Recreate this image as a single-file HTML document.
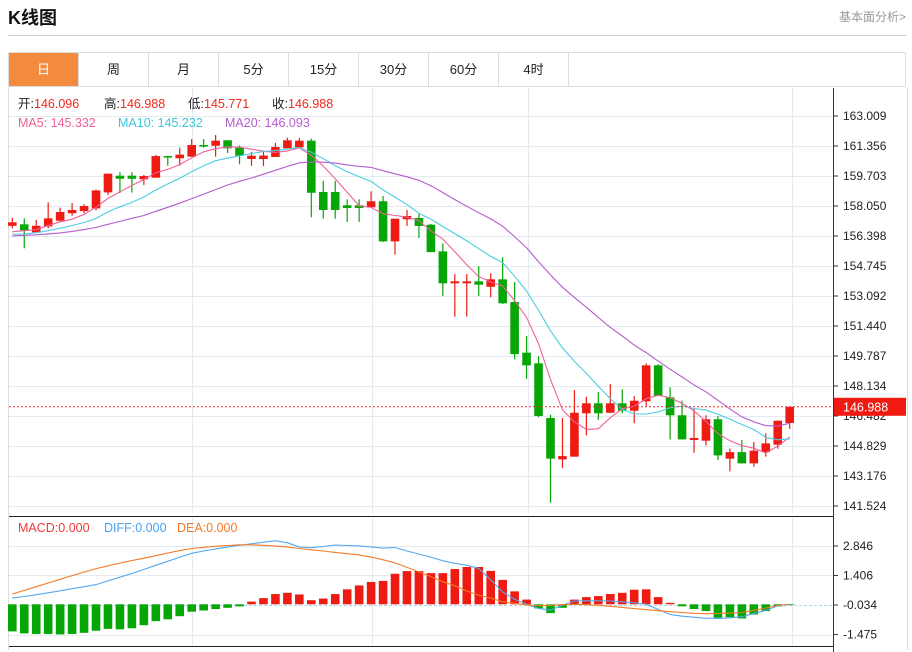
<!DOCTYPE html>
<html><head><meta charset="utf-8">
<style>
body{margin:0;width:912px;height:652px;background:#fff;overflow:hidden;font-family:"Liberation Sans","Noto Sans CJK SC",sans-serif;}
#title{position:absolute;left:8px;top:4px;font-size:18px;font-weight:bold;color:#111;}
#fa{position:absolute;right:6px;top:8px;font-size:12px;color:#999;}
#hr{position:absolute;left:8px;top:35px;width:898px;height:1px;background:#ccc;}
#tabs{position:absolute;left:8px;top:52px;width:898px;height:35px;border:1px solid #ddd;box-sizing:border-box;display:flex;}
.tab{width:70px;height:100%;border-right:1px solid #ddd;box-sizing:border-box;text-align:center;line-height:34px;font-size:13px;color:#222;}
.tab.on{background:#f38b3e;color:#fff;}
svg{position:absolute;left:0;top:0;}
</style></head><body>
<div id="title">K线图</div>
<div id="fa">基本面分析&gt;</div>
<div id="hr"></div>
<div id="tabs">
<div class="tab on">日</div>
<div class="tab">周</div>
<div class="tab">月</div>
<div class="tab">5分</div>
<div class="tab">15分</div>
<div class="tab">30分</div>
<div class="tab">60分</div>
<div class="tab">4时</div>
</div>
<svg id="chart" width="912" height="652"></svg>
<script>
const history=[156.0,156.5,156.3,156.6,156.2,156.1,156.5,156.4,156.3,156.2,156.6,156.2,156.3,156.4,156.3,156.4,156.7,156.2,156.7];
const opens=[156.96,157.04,156.60,156.93,157.24,157.65,157.77,157.92,158.80,159.72,159.72,159.52,159.61,160.80,160.68,160.77,161.41,161.37,161.67,161.26,160.64,160.64,160.75,161.23,161.28,161.65,158.82,158.82,158.09,158.09,157.98,158.31,156.10,157.32,157.39,157.02,155.55,153.79,153.79,153.90,153.60,154.01,152.76,149.97,149.38,146.37,144.09,144.24,146.63,147.18,146.66,147.18,146.77,147.29,149.27,147.51,146.52,145.16,145.12,146.30,144.13,144.49,143.87,144.49,144.90,146.096];
const highs=[157.40,157.37,157.29,158.25,157.96,158.21,158.14,158.95,159.83,159.91,159.91,159.76,160.86,160.80,161.26,161.74,161.74,161.96,161.67,161.39,161.04,161.08,161.52,161.81,161.80,161.76,159.44,159.44,158.42,158.42,158.86,158.60,157.35,157.83,157.61,157.06,155.99,154.30,154.30,154.74,154.34,155.22,153.86,150.89,149.78,146.55,146.37,147.91,147.54,147.80,148.24,147.95,147.58,149.38,149.34,148.06,147.32,146.88,146.52,146.48,144.68,145.16,145.05,145.53,146.22,146.988];
const lows=[156.82,155.72,156.60,156.82,157.18,157.51,157.65,157.81,158.66,158.77,158.79,159.21,159.61,160.27,160.27,160.77,161.26,160.77,160.97,160.35,160.27,160.25,160.75,161.23,161.28,157.43,157.35,157.35,157.17,157.17,157.98,156.07,155.37,156.95,156.29,155.51,153.09,151.95,151.95,153.09,153.02,152.65,149.60,148.53,146.41,141.70,143.61,144.24,145.41,146.26,146.66,146.63,146.08,147.03,147.58,145.19,145.19,144.46,144.86,144.05,143.43,143.87,143.68,144.24,144.68,145.771];
const closes=[157.15,156.71,156.96,157.37,157.72,157.83,158.05,158.91,159.83,159.55,159.55,159.70,160.80,160.73,160.88,161.41,161.37,161.65,161.23,160.82,160.82,160.83,161.30,161.67,161.65,158.78,157.83,157.83,157.94,157.94,158.31,156.10,157.35,157.50,156.95,155.51,153.79,153.90,153.90,153.71,154.01,152.69,149.89,149.27,146.48,144.13,144.27,146.66,147.18,146.63,147.18,146.77,147.32,149.27,147.58,146.52,145.19,145.27,146.30,144.31,144.49,143.87,144.57,144.97,146.22,146.988];
const macdBars=[-1.32,-1.42,-1.45,-1.45,-1.47,-1.45,-1.39,-1.29,-1.20,-1.22,-1.17,-1.02,-0.82,-0.73,-0.58,-0.36,-0.30,-0.23,-0.17,-0.10,0.13,0.30,0.50,0.56,0.48,0.20,0.28,0.50,0.73,0.92,1.09,1.14,1.49,1.62,1.62,1.52,1.52,1.72,1.82,1.82,1.63,1.19,0.63,0.23,-0.20,-0.43,-0.17,0.23,0.35,0.40,0.50,0.56,0.71,0.73,0.35,0.07,-0.10,-0.23,-0.33,-0.66,-0.63,-0.69,-0.50,-0.33,-0.10,-0.03];
const diffVals=[0.30,0.38,0.47,0.56,0.66,0.76,0.86,0.96,1.14,1.32,1.50,1.70,1.90,2.10,2.30,2.49,2.60,2.70,2.80,2.88,2.95,3.03,3.10,3.00,2.80,2.76,2.82,2.89,2.87,2.85,2.80,2.74,2.77,2.60,2.45,2.30,2.12,2.00,1.90,1.75,1.20,0.60,0.25,0.00,-0.20,-0.28,-0.05,0.16,0.17,0.17,0.16,0.12,0.08,0.00,-0.25,-0.50,-0.58,-0.63,-0.68,-0.69,-0.66,-0.61,-0.45,-0.30,-0.08,0.0];
const deaVals=[0.50,0.68,0.86,1.04,1.22,1.40,1.57,1.74,1.88,2.01,2.13,2.25,2.37,2.50,2.62,2.72,2.78,2.83,2.87,2.90,2.90,2.88,2.84,2.79,2.72,2.66,2.60,2.53,2.47,2.41,2.30,2.17,2.02,1.80,1.58,1.35,1.10,0.90,0.65,0.45,0.30,0.12,0.05,-0.03,-0.07,-0.05,-0.02,0,-0.02,-0.05,-0.10,-0.15,-0.21,-0.26,-0.31,-0.36,-0.40,-0.44,-0.46,-0.45,-0.43,-0.40,-0.30,-0.18,-0.06,-0.01];
const priceTicks=[163.009,161.356,159.703,158.050,156.398,154.745,153.092,151.440,149.787,148.134,146.482,144.829,143.176,141.524];
const macdTicks=[2.846,1.406,-0.034,-1.475];

const NS='http://www.w3.org/2000/svg';
const svg=document.getElementById('chart');
function mk(tag,attrs,parent){const e=document.createElementNS(NS,tag);for(const k in attrs)e.setAttribute(k,attrs[k]);(parent||svg).appendChild(e);return e;}
const X0=12.3,DX=11.96;
const xOf=i=>X0+DX*i;
const yP=p=>116+(163.009-p)*18.15;
const yM=v=>604.3-v*20.5;
const RED='#ee1b12',GREEN='#05a605';

let g=mk('g',{});


mk('line',{x1:8.5,y1:87,x2:8.5,y2:650,stroke:'#ddd'},g);
mk('line',{x1:907.5,y1:87,x2:907.5,y2:650,stroke:'#ddd'},g);
const grid=mk('g',{});


[192,372,528,792].forEach(x=>{mk('line',{x1:x+.5,y1:88,x2:x+.5,y2:513,stroke:'#e3eaf0'},grid);mk('line',{x1:x+.5,y1:517,x2:x+.5,y2:646,stroke:'#e3eaf0'},grid);});
priceTicks.forEach(p=>{const y=Math.round(yP(p))+.5;mk('line',{x1:9,y1:y,x2:833,y2:y,stroke:'#e3eaf0'},grid);});
macdTicks.forEach((v,k)=>{const y=Math.round(yM(v))+.5;if(k==2)mk('line',{x1:9,y1:y,x2:833,y2:y,stroke:'#a8d8ee','stroke-dasharray':'3,2'},grid);else mk('line',{x1:9,y1:y,x2:833,y2:y,stroke:'#e3eaf0'},grid);});
const ax=mk('g',{});


mk('line',{x1:833.5,y1:88,x2:833.5,y2:652,stroke:'#333'},ax);
mk('line',{x1:9,y1:516.5,x2:833,y2:516.5,stroke:'#222'},ax);
mk('line',{x1:9,y1:646.5,x2:833,y2:646.5,stroke:'#222'},ax);
priceTicks.forEach(p=>{const y=yP(p);mk('line',{x1:833,y1:y,x2:838,y2:y,stroke:'#333'},ax);const t=mk('text',{x:843,y:y+4,'font-size':12,fill:'#222'},ax);t.textContent=p.toFixed(3);});
macdTicks.forEach(v=>{const y=yM(v);mk('line',{x1:833,y1:y,x2:838,y2:y,stroke:'#333'},ax);const t=mk('text',{x:843,y:y+4,'font-size':12,fill:'#222'},ax);t.textContent=v.toFixed(3);});

const cg=mk('g',{});


closes.forEach((c,i)=>{
  const o=opens[i],up=c>=o,col=up?RED:GREEN,x=xOf(i);
  const grp=mk('g',{},cg);
  
  
  mk('line',{x1:x,y1:yP(highs[i]),x2:x,y2:yP(lows[i]),stroke:col,'stroke-width':1.2},grp);
  const t=yP(Math.max(o,c)),b=yP(Math.min(o,c));
  mk('rect',{x:x-4.3,y:t,width:8.6,height:Math.max(1.5,b-t),fill:col},grp);
});
const full=history.concat(closes);
function ma(n){return closes.map((_,i)=>{const j=i+history.length;let s=0,cnt=0;for(let k=j-n+1;k<=j;k++){if(k>=0){s+=full[k];cnt++;}}return s/cnt;});}
[[5,'#f0609a','ma5-line'],[10,'#4ccde0','ma10-line'],[20,'#b45ccc','ma20-line']].forEach(([n,col,name])=>{
  const v=ma(n);const d=v.map((p,i)=>(i?'L':'M')+xOf(i).toFixed(1)+','+yP(p).toFixed(1)).join('');
  const e=mk('path',{d:d,fill:'none',stroke:col,'stroke-width':1.1});
  
  
});
const last=closes[closes.length-1],ly=yP(last);
const pl=mk('line',{x1:9,y1:ly,x2:833,y2:ly,stroke:'#f03030','stroke-dasharray':'2,2'});


const pb=mk('rect',{x:834,y:ly-9,width:72,height:18,fill:'#f01a10'});


const pt=mk('text',{x:843,y:ly+4.5,'font-size':12.5,fill:'#fff'});
pt.textContent=last.toFixed(3);



const mg=mk('g',{});


macdBars.forEach((v,i)=>{
  const y0=yM(0),y1=yM(v);const r=mk('rect',{x:xOf(i)-4.3,y:Math.min(y0,y1),width:8.6,height:Math.max(0.8,Math.abs(y1-y0)),fill:v>=0?RED:GREEN},mg);
  
  
});
[[diffVals,'#55a8ef','diff-line'],[deaVals,'#f47a26','dea-line']].forEach(([arr,col,name])=>{
  const d=arr.map((v,i)=>(i?'L':'M')+xOf(i).toFixed(1)+','+yM(v).toFixed(1)).join('');
  const e=mk('path',{d:d,fill:'none',stroke:col,'stroke-width':1.1});
  
  
});
function txt(x,y,s,col,name){const t=mk('text',{x:x,y:y,'font-size':12.5,fill:col});t.textContent=s;return t;}
let lx=18;
[['开:','146.096'],['高:','146.988'],['低:','145.771'],['收:','146.988']].forEach(([a,b],k)=>{
  txt(lx,108,a,'#222','ohlc-label');txt(lx+16,108,b,'#f0281e','ohlc-value');lx+=[86,84,84,0][k];
});
txt(18,127,'MA5: 145.332','#f0609a','ma5-legend');
txt(118,127,'MA10: 145.232','#3cc6df','ma10-legend');
txt(225,127,'MA20: 146.093','#b45ccc','ma20-legend');
txt(18,532,'MACD:0.000','#f03a3a','macd-legend');
txt(104,532,'DIFF:0.000','#4aa3f0','diff-legend');
txt(177,532,'DEA:0.000','#f47a26','dea-legend');
</script>
</body></html>
